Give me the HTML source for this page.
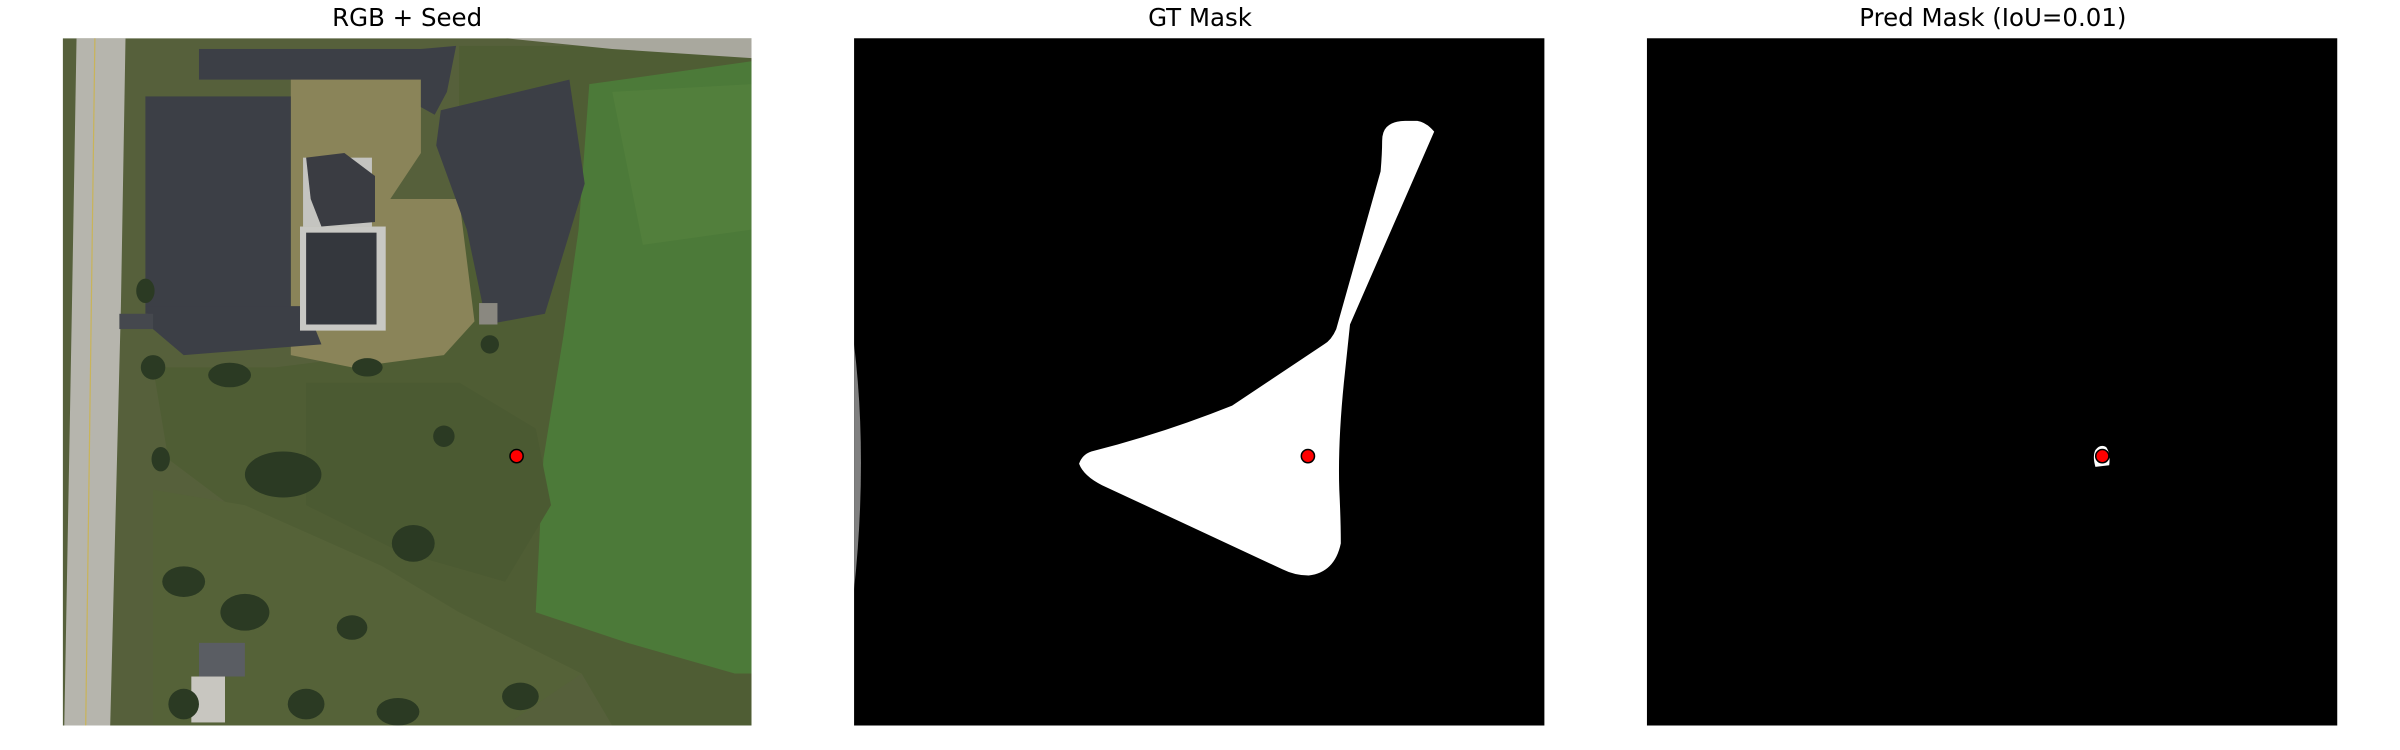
<!DOCTYPE html>
<html><head><meta charset="utf-8"><style>
html,body{margin:0;padding:0;background:#fff;width:2400px;height:750px;overflow:hidden}
svg{display:block}
text{font-family:"DejaVu Sans","Liberation Sans",sans-serif;fill:#000}
</style></head><body>
<svg width="2400" height="750" viewBox="0 0 1568 490" xmlns="http://www.w3.org/2000/svg">
<defs>
<clipPath id="c1"><rect x="41" y="25" width="450" height="449"/></clipPath>
</defs>
<!-- Panel 1 -->
<g>
<text x="266" y="17" font-size="16" text-anchor="middle">RGB + Seed</text>
<g clip-path="url(#c1)">
<rect x="41" y="25" width="450" height="449" fill="#56603b"/>
<polygon points="300,30 491,30 491,474 400,474 380,440 300,400 250,380 200,350 150,330 110,300 100,240 180,240 260,230 300,210" fill="#4f5d34"/>
<polygon points="385,55 491,40 491,440 480,440 410,420 350,400 355,300 368,220 378,150" fill="#4c7a39"/>
<polygon points="400,60 491,55 491,150 420,160" fill="#527f3c"/>
<polygon points="330,25 491,25 491,38 400,32" fill="#a9a89e"/>
<polygon points="200,250 300,250 350,280 360,330 330,380 260,360 200,330" fill="#4b5a32"/>
<polygon points="100,320 160,330 250,370 300,400 380,440 330,474 100,474" fill="#556238"/>
<polygon points="190,50 275,50 275,100 255,130 300,130 310,210 290,232 230,240 190,232 190,100" fill="#8a8459"/>
<polygon points="50,25 82,25 79,200 72,474 42,474 47,200" fill="#b6b5ad"/>
<line x1="62" y1="25" x2="56" y2="474" stroke="#c9b45a" stroke-width="0.8"/>
<rect x="130" y="32" width="155" height="20" fill="#3c3f46"/>
<polygon points="275,32 298,30 292,60 284,75 275,70" fill="#3c3f46"/>
<rect x="95" y="63" width="95" height="142" fill="#3c3f46"/>
<polygon points="95,200 200,200 210,225 120,232 100,215" fill="#3c3f46"/>
<rect x="78" y="205" width="22" height="10" fill="#45484e"/>
<polygon points="288,72 372,52 382,120 356,205 318,212 305,150 285,95" fill="#3c3f46"/>
<rect x="198" y="103" width="45" height="45" fill="#c4c4c0"/>
<polygon points="200,103 225,100 245,115 245,145 210,148 203,130" fill="#3a3c42"/>
<rect x="196" y="148" width="56" height="68" fill="#c8c8c4"/>
<rect x="200" y="152" width="46" height="60" fill="#34373d"/>
<rect x="313" y="198" width="12" height="14" fill="#8a8880"/>
<rect x="130" y="420" width="30" height="22" fill="#5a5d63"/>
<rect x="125" y="442" width="22" height="30" fill="#c8c6c0"/>
<g fill="#2b3a23">
<ellipse cx="185" cy="310" rx="25" ry="15"/><ellipse cx="270" cy="355" rx="14" ry="12"/>
<ellipse cx="120" cy="380" rx="14" ry="10"/><ellipse cx="160" cy="400" rx="16" ry="12"/>
<ellipse cx="230" cy="410" rx="10" ry="8"/><ellipse cx="120" cy="460" rx="10" ry="10"/>
<ellipse cx="200" cy="460" rx="12" ry="10"/><ellipse cx="260" cy="465" rx="14" ry="9"/>
<ellipse cx="340" cy="455" rx="12" ry="9"/><ellipse cx="100" cy="240" rx="8" ry="8"/>
<ellipse cx="95" cy="190" rx="6" ry="8"/><ellipse cx="150" cy="245" rx="14" ry="8"/>
<ellipse cx="240" cy="240" rx="10" ry="6"/><ellipse cx="320" cy="225" rx="6" ry="6"/>
<ellipse cx="290" cy="285" rx="7" ry="7"/><ellipse cx="105" cy="300" rx="6" ry="8"/>
</g>
</g>
<circle cx="337.5" cy="298" r="4.3" fill="#ff0000" stroke="#000" stroke-width="1"/>
</g>
<!-- Panel 2 -->
<g>
<text x="784" y="17" font-size="16" text-anchor="middle">GT Mask</text>
<rect x="558" y="25" width="451" height="449" fill="#000"/>
<path d="M558,225 Q567,300 558,385 Z" fill="#808080"/>
<path d="M906,83 Q910,79 918,79 L926,79 Q932,80 937,86 L882,212 L878,250 Q874,290 875,320 Q876,340 876,355 Q872,374 855,376 Q846,376 838,372 L720,317 Q708,311 705,303 Q707,297 713,295 Q760,283 805,265 L865,225 Q870,222 873,215 L902,112 Q903,100 903,92 Q903,86 906,83 Z" fill="#fff"/>
<circle cx="854.5" cy="298" r="4.3" fill="#ff0000" stroke="#000" stroke-width="1"/>
</g>
<!-- Panel 3 -->
<g>
<text x="1302" y="17" font-size="16" text-anchor="middle">Pred Mask (IoU=0.01)</text>
<rect x="1076" y="25" width="451" height="449" fill="#000"/>
<path d="M1369,294 Q1372,290 1376,292 Q1379,296 1378,304 L1369,305 Q1367,298 1369,294 Z" fill="#fff"/>
<circle cx="1373.5" cy="298" r="4.3" fill="#ff0000" stroke="#000" stroke-width="1"/>
</g>
</svg>
</body></html>
